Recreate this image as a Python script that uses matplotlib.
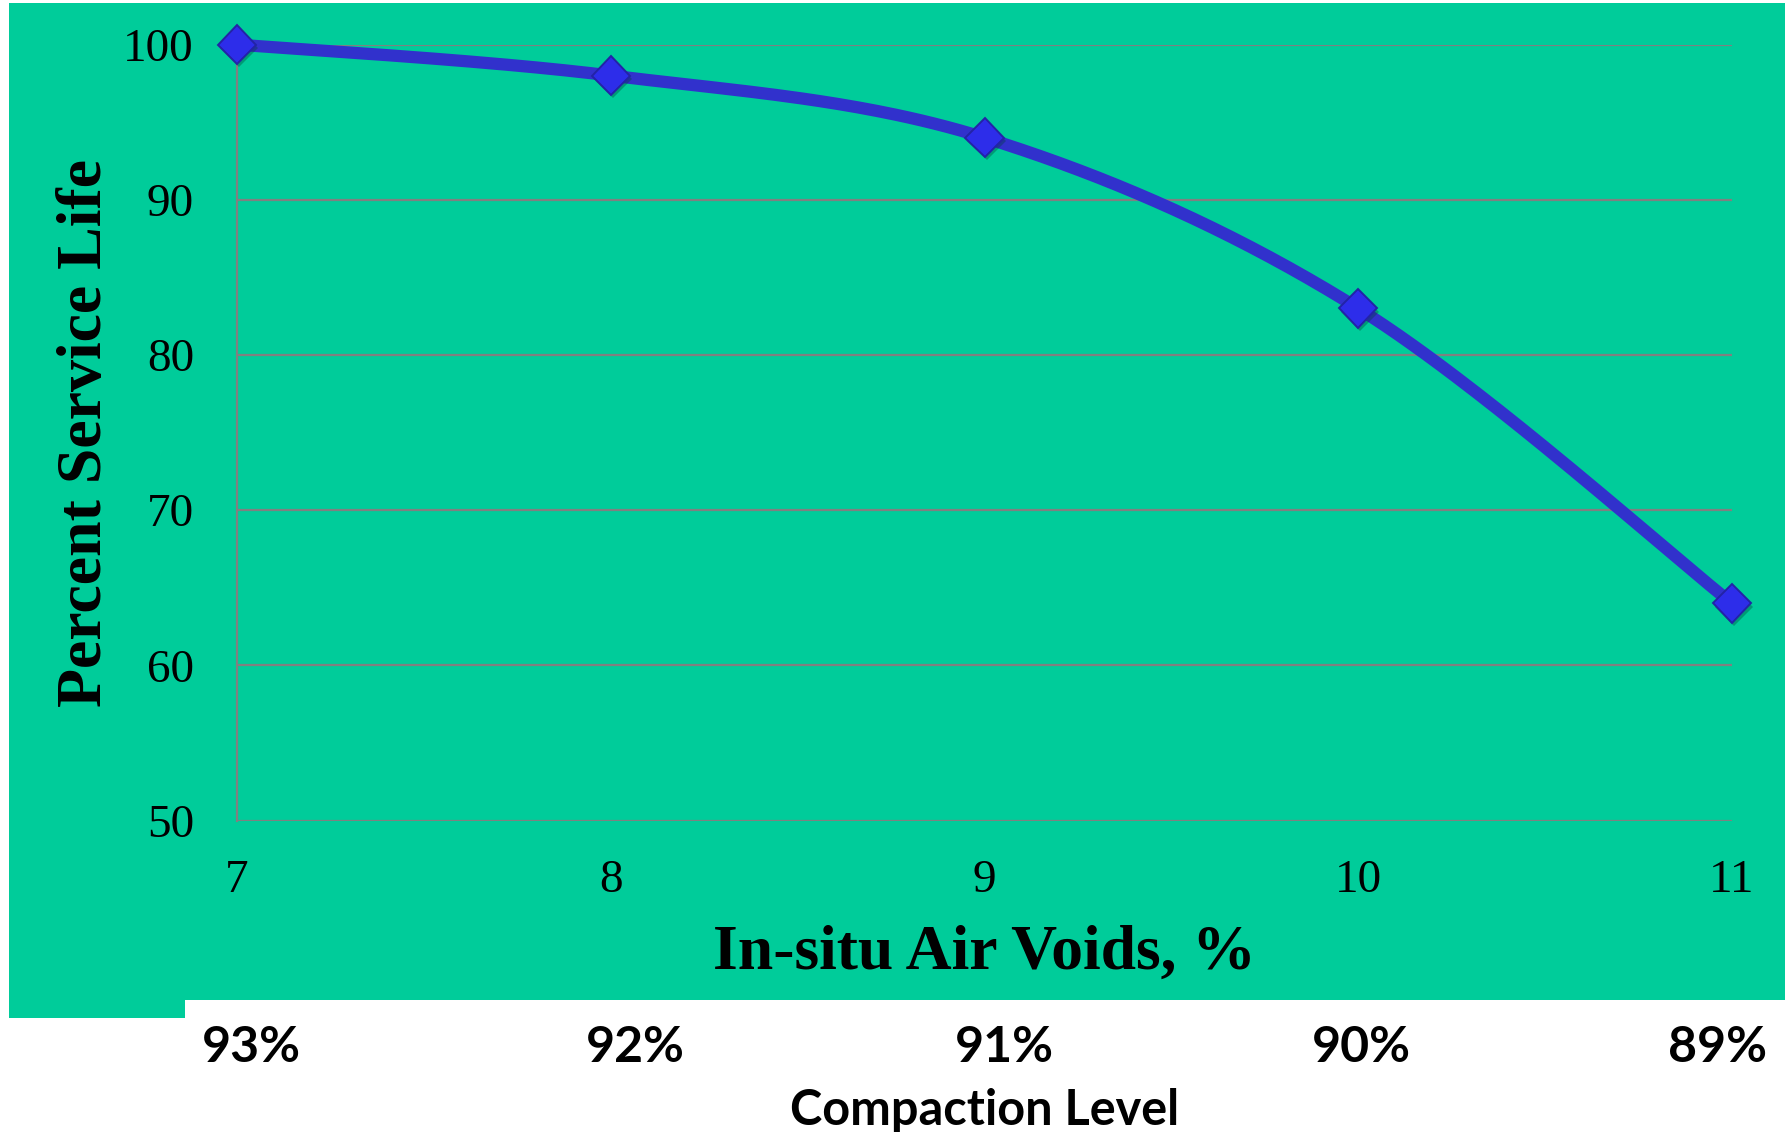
import numpy as np
import matplotlib
matplotlib.use("Agg")
import matplotlib.pyplot as plt
import matplotlib.patheffects as pe
from matplotlib.patches import Rectangle

# Service life versus in-situ air voids
air_voids = [7, 8, 9, 10, 11]
service_life = [100, 98, 94, 83, 64]
compaction_labels = ["93%", "92%", "91%", "90%", "89%"]
y_ticks = [50, 60, 70, 80, 90, 100]

W, H = 1791, 1132
fig = plt.figure(figsize=(W / 100, H / 100), dpi=100)
fig.patch.set_facecolor("white")

GREEN = "#00CC9A"
# green panel behind the chart
fig.patches.append(Rectangle((9 / W, 1 - 1000 / H), (1785 - 9) / W, (1000 - 3) / H,
                             transform=fig.transFigure, facecolor=GREEN,
                             edgecolor="none", zorder=-2))
fig.patches.append(Rectangle((9 / W, 1 - 1018 / H), (185 - 9) / W, 30 / H,
                             transform=fig.transFigure, facecolor=GREEN,
                             edgecolor="none", zorder=-2))

left, right = 237 / W, 1732 / W
top, bottom = 1 - 44.5 / H, 1 - 820.7 / H
ax = fig.add_axes([left, bottom, right - left, top - bottom])
ax.set_facecolor("none")


def smooth_curve(xs, ys, n=60):
    """Cubic Bezier smoothing through every point (Catmull-Rom style)."""
    pts = np.column_stack([xs, ys]).astype(float)
    p = np.vstack([pts[0], pts, pts[-1]])
    t = np.linspace(0, 1, n)[:, None]
    segs = []
    for i in range(1, len(p) - 2):
        p0, p1, p2, p3 = p[i - 1], p[i], p[i + 1], p[i + 2]
        c1 = p1 + (p2 - p0) / 6.0
        c2 = p2 - (p3 - p1) / 6.0
        segs.append((1 - t) ** 3 * p1 + 3 * (1 - t) ** 2 * t * c1
                    + 3 * (1 - t) * t ** 2 * c2 + t ** 3 * p2)
    return np.vstack(segs)


curve = smooth_curve(air_voids, service_life)
ax.plot(curve[:, 0], curve[:, 1], color="#3131CC", lw=8.8,
        solid_capstyle="butt", clip_on=False, zorder=3)
ax.plot(air_voids, service_life, linestyle="none", marker="D", markersize=19.5,
        markerfacecolor="#2D2DEA", markeredgecolor="#2323A6", markeredgewidth=1.4,
        clip_on=False, zorder=4,
        path_effects=[pe.SimplePatchShadow(offset=(1.5, -2.5), shadow_rgbFace="#004030",
                                           alpha=0.35), pe.Normal()])

ax.set_xlim(7, 11)
ax.set_ylim(50, 100)
ax.set_xticks(air_voids)
ax.set_yticks(y_ticks)
ax.grid(axis="y", color="#808080", lw=1.6)
ax.set_axisbelow(True)
for s in ["top", "right", "bottom"]:
    ax.spines[s].set_visible(False)
ax.spines["left"].set_color("#808080")
ax.spines["left"].set_linewidth(1.6)

serif = "Liberation Serif"
ax.tick_params(axis="both", length=0, labelsize=34)
ax.tick_params(axis="y", pad=31)
ax.tick_params(axis="x", pad=28)
for lbl in ax.get_xticklabels() + ax.get_yticklabels():
    lbl.set_fontfamily(serif)

fig.text(984.5 / W, 1 - 969 / H, "In-situ Air Voids, %", ha="center", va="baseline",
         fontsize=45.8, fontweight="bold", family=serif)
fig.text(86.5 / W, 1 - 433 / H, "Percent Service Life", ha="center", va="center",
         rotation=90, fontsize=46, fontweight="bold", family=serif)

# secondary scale: compaction level under the chart
comp_x = [251, 635, 1004, 1361, 1717]
for x, lab in zip(comp_x, compaction_labels):
    fig.text(x / W, 1 - 1062 / H, lab, ha="center", va="baseline",
             fontsize=36, fontweight="bold", family="Lato")
fig.text(985 / W, 1 - 1125 / H, "Compaction Level", ha="center", va="baseline",
         fontsize=35, fontweight="bold", family="Lato")

fig.savefig("out.png", dpi=100, facecolor=fig.get_facecolor())
